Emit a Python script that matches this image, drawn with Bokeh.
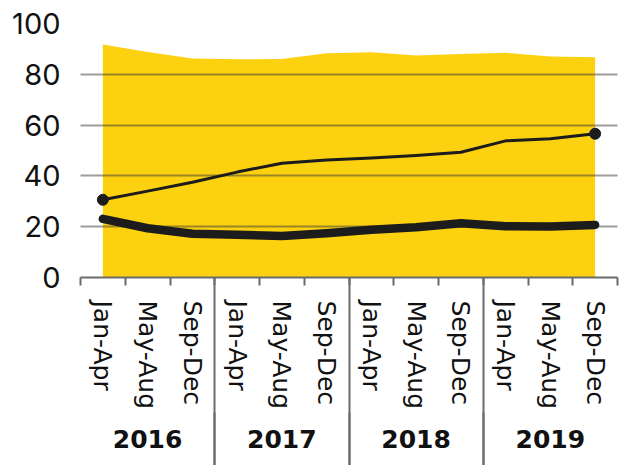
from bokeh.plotting import figure
from bokeh.models import Range1d, LinearAxis, FixedTicker, ColumnDataSource
from bokeh.embed import file_html
from bokeh.resources import INLINE

years = ["2016", "2017", "2018", "2019"]
periods = ["Jan-Apr", "May-Aug", "Sep-Dec"]
area_vals = [91.7, 88.8, 86.2, 85.9, 86.0, 88.3, 88.7, 87.4, 88.0, 88.5, 87.0, 86.7]
thin_vals = [30.6, 34.0, 37.5, 41.5, 45.0, 46.3, 47.0, 48.0, 49.3, 53.8, 54.6, 56.6]
thick_vals = [23.1, 19.4, 17.2, 16.8, 16.3, 17.4, 18.8, 19.8, 21.4, 20.2, 20.1, 20.7]
y_ticks = [0, 20, 40, 60, 80, 100]

n = len(years) * len(periods)
xs = [i + 0.5 for i in range(n)]                    # category centres
bounds = list(range(n + 1))                          # category boundaries
year_centres = [len(periods) * (k + 0.5) for k in range(len(years))]
year_bounds = [len(periods) * k for k in range(1, len(years))]

src = ColumnDataSource(dict(x=xs, area=area_vals, thin=thin_vals,
                            thick=thick_vals, zero=[0] * n))

YELLOW = "#FCD10F"
INK = "#1c1c1c"
AXIS = "#6b6b6b"
FONT = "Inter"
XFONT = "DejaVu Sans"

p = figure(width=625, height=465, output_backend="svg", toolbar_location=None,
           x_range=Range1d(0, n), y_range=Range1d(0, 100),
           x_axis_location=None,
           min_border_left=80, min_border_right=8, min_border_top=23,
           min_border_bottom=188)
p.outline_line_color = None
p.background_fill_color = "white"
p.border_fill_color = "white"

area = p.varea(x="x", y1="zero", y2="area", source=src, fill_color=YELLOW)
area.level = "image"

p.line(x="x", y="thick", source=src, line_color=INK, line_width=8.5,
       line_cap="round", line_join="round")
p.line(x="x", y="thin", source=src, line_color=INK, line_width=3,
       line_join="round")
p.scatter(x=[xs[0], xs[-1]], y=[thin_vals[0], thin_vals[-1]],
          size=11, color=INK)

# y axis
p.yaxis.ticker = FixedTicker(ticks=y_ticks)
p.yaxis.axis_line_color = None
p.yaxis.major_tick_line_color = None
p.yaxis.minor_tick_line_color = None
p.yaxis.major_label_text_font = FONT
p.yaxis.major_label_text_font_size = "29px"
p.yaxis.major_label_text_color = "#111111"
p.yaxis.major_label_standoff = 14

# grid
p.xgrid.visible = False
p.ygrid.ticker = FixedTicker(ticks=y_ticks[1:])
p.ygrid.grid_line_color = "#3a3a3a"
p.ygrid.grid_line_width = 2
p.ygrid.grid_line_dash = "1 1"

# boundary ticks + axis line
tick_axis = LinearAxis(
    ticker=FixedTicker(ticks=year_bounds, minor_ticks=bounds),
    axis_line_color=AXIS, axis_line_width=2,
    major_tick_line_color=AXIS, major_tick_line_width=2,
    major_tick_out=8, major_tick_in=0,
    minor_tick_line_color=AXIS, minor_tick_line_width=2,
    minor_tick_out=8, minor_tick_in=0,
    major_label_text_font_size="0px", major_label_standoff=0,
    major_label_text_color=None)
p.add_layout(tick_axis, "below")

period_axis = LinearAxis(
    ticker=FixedTicker(ticks=xs, minor_ticks=year_bounds),
    major_label_overrides={x: periods[i % len(periods)] for i, x in enumerate(xs)},
    axis_line_color=None,
    major_tick_line_color=None, major_tick_out=0, major_tick_in=0,
    minor_tick_line_color=AXIS, minor_tick_line_width=2,
    minor_tick_out=200, minor_tick_in=0,
    major_label_orientation="vertical",
    major_label_text_font=XFONT, major_label_text_font_size="25px",
    major_label_text_color="#111111", major_label_standoff=-185)
p.add_layout(period_axis, "below")

year_axis = LinearAxis(
    ticker=FixedTicker(ticks=year_centres, minor_ticks=year_bounds),
    major_label_overrides={x: years[i] for i, x in enumerate(year_centres)},
    axis_line_color=None,
    major_tick_line_color=None, major_tick_out=0, major_tick_in=0,
    minor_tick_line_color=AXIS, minor_tick_line_width=2,
    minor_tick_out=80, minor_tick_in=0,
    major_label_text_font=XFONT, major_label_text_font_size="25px",
    major_label_text_font_style="bold",
    major_label_text_color="#111111", major_label_standoff=-63)
p.add_layout(year_axis, "below")

open("out.html", "w").write(file_html(p, INLINE))
